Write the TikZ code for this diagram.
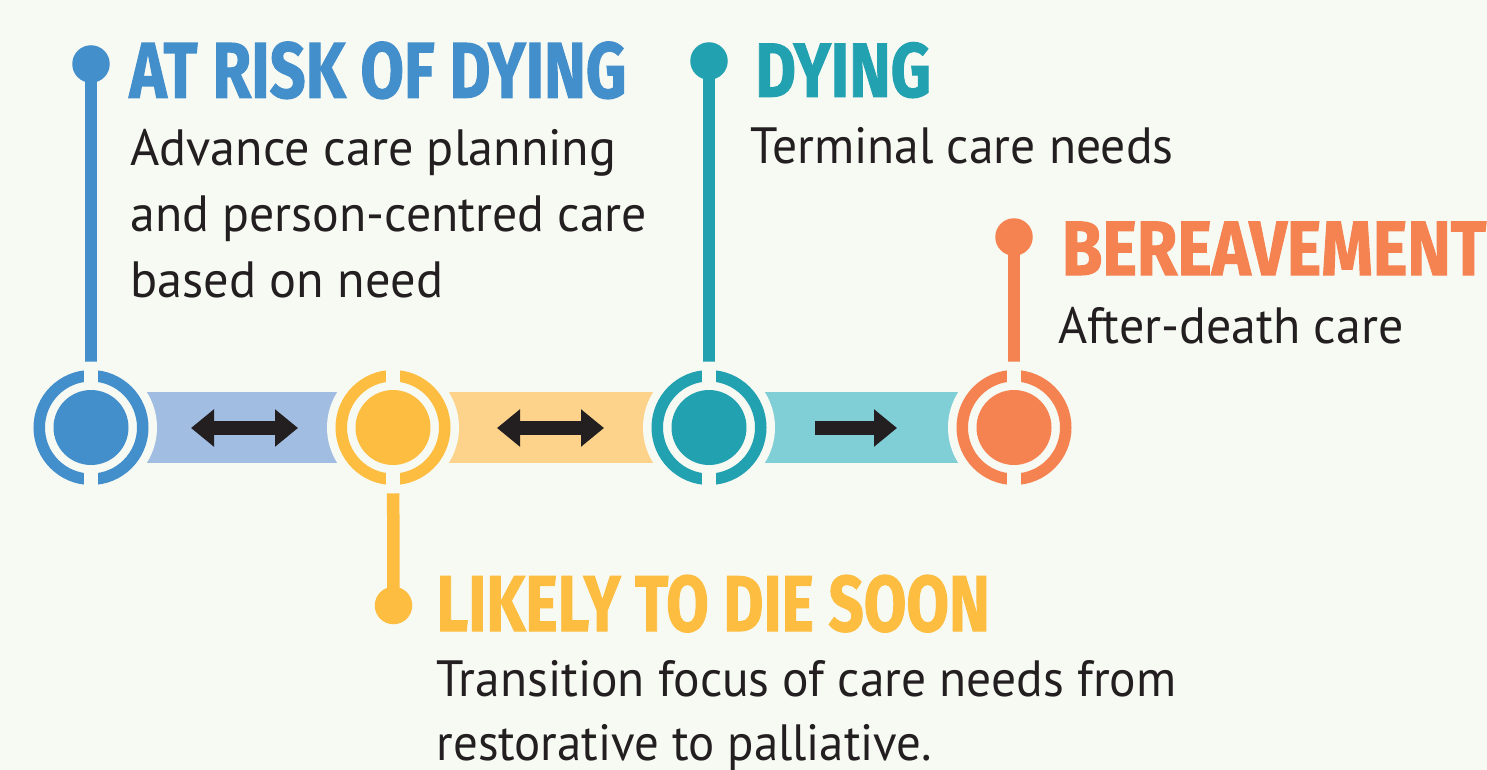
\documentclass[tikz,border=0pt]{standalone}
\usepackage{fontspec}
\usepackage{graphicx}
\usepackage{tikz}
\usetikzlibrary{arrows.meta,backgrounds}

\newfontfamily\titlefont[FakeBold=1.5]{Fira Sans}
\newfontfamily\bodyfont{PT Sans}

\definecolor{paper}{HTML}{F7F9F3}
\definecolor{ink}{HTML}{231F20}
\definecolor{riskblue}{HTML}{438FCB}
\definecolor{riskband}{HTML}{A1BDE2}
\definecolor{soonyellow}{HTML}{FDBD40}
\definecolor{soonband}{HTML}{FDD38B}
\definecolor{dyingteal}{HTML}{22A1B0}
\definecolor{dyingband}{HTML}{80CFD6}
\definecolor{bereaveorange}{HTML}{F58351}

\newcommand{\stagetitle}[3]{\resizebox{#1}{#2}{\titlefont\bfseries #3}}
\newcommand{\stageline}[2]{\resizebox{#1}{\height}{\bodyfont\fontsize{51}{60}\selectfont #2}}

\tikzset{
    stage/.style={circle, minimum size=75pt, inner sep=0pt},
    pin/.style={circle, minimum size=37.5pt, inner sep=0pt},
    stem/.style={line width=12.5pt},
    title/.style={anchor=base west, inner sep=0pt},
    bodyline/.style={anchor=base west, inner sep=0pt, text=ink},
    move/.style={line width=14pt, ink},
    movetip/.tip={Triangle[length=23pt, width=36pt]}
}

\begin{document}
\begin{tikzpicture}[x=1pt, y=-1pt]
\useasboundingbox (0,0) rectangle (1487,770);

    %stages
    \foreach \nm/\x/\c in {risk/91/riskblue, soon/393/soonyellow, dying/709/dyingteal, bereave/1014/bereaveorange}{
        \fill[paper] (\x,427.5) circle (66pt);
        \draw[\c, line width=11.5pt] (\x,427.5) circle (51.75pt);
        \fill[paper] (\x-6.6,369) rectangle (\x+6.6,486);
        \node[stage, fill=\c] (\nm) at (\x,427.5) {};
    }

    %pins
    \node[pin, fill=riskblue] (riskpin) at (91,64) {};
    \node[pin, fill=soonyellow] (soonpin) at (393.5,605.5) {};
    \node[pin, fill=dyingteal] (dyingpin) at (709,61) {};
    \node[pin, fill=bereaveorange] (bereavepin) at (1014,237) {};

    %bands and stems
    \begin{scope}[on background layer]
        \fill[paper] (0,0) rectangle (1487,770);
        \fill[riskband] ([yshift=35.5pt]risk.center) rectangle ([yshift=-35.5pt]soon.center);
        \fill[soonband] ([yshift=35.5pt]soon.center) rectangle ([yshift=-35.5pt]dying.center);
        \fill[dyingband] ([yshift=35.5pt]dying.center) rectangle ([yshift=-35.5pt]bereave.center);
        \draw[stem, riskblue] (riskpin.center) -- (risk.center);
        \draw[stem, soonyellow] (soonpin.center) -- (soon.center);
        \draw[stem, dyingteal] (dyingpin.center) -- (dying.center);
        \draw[stem, bereaveorange] (bereavepin.center) -- (bereave.center);
    \end{scope}

    %arrows
    \coordinate (move1a) at (191,428);
    \coordinate (move1b) at (298,428);
    \coordinate (move2a) at (497,428);
    \coordinate (move2b) at (604,428);
    \coordinate (move3a) at (815,428);
    \coordinate (move3b) at (897,428);
    \draw[move, movetip-movetip] (move1a) -- (move1b);
    \draw[move, movetip-movetip] (move2a) -- (move2b);
    \draw[move, -movetip] (move3a) -- (move3b);

    %titles
    \node[title, text=riskblue] (risktitle) at (129.3,97.7) {\stagetitle{496.7pt}{56pt}{AT RISK OF DYING}};
    \node[title, text=dyingteal] (dyingtitle) at (755,96.7) {\stagetitle{175.7pt}{54.4pt}{DYING}};
    \node[title, text=bereaveorange] (bereavetitle) at (1061.7,275) {\stagetitle{424.3pt}{53.3pt}{BEREAVEMENT}};
    \node[title, text=soonyellow] (soontitle) at (436.4,631) {\stagetitle{553.2pt}{56pt}{LIKELY TO DIE SOON}};

    %texts
    \node[bodyline] (risktext1) at (130.3,165.7) {\stageline{485.7pt}{Advance care planning}};
    \node[bodyline] (risktext2) at (130.3,231.7) {\stageline{516.7pt}{and person-centred care}};
    \node[bodyline] (risktext3) at (130.3,297.3) {\stageline{312.7pt}{based on need}};
    \node[bodyline] (dyingtext) at (750.7,164) {\stageline{422.6pt}{Terminal care needs}};
    \node[bodyline] (bereavetext) at (1058.3,343.3) {\stageline{345pt}{After-death care}};
    \node[bodyline] (soontext1) at (436.4,696.7) {\stageline{740pt}{Transition focus of care needs from}};
    \node[bodyline] (soontext2) at (436.4,760) {\stageline{495.6pt}{restorative to palliative.}};
\end{tikzpicture}
\end{document}
